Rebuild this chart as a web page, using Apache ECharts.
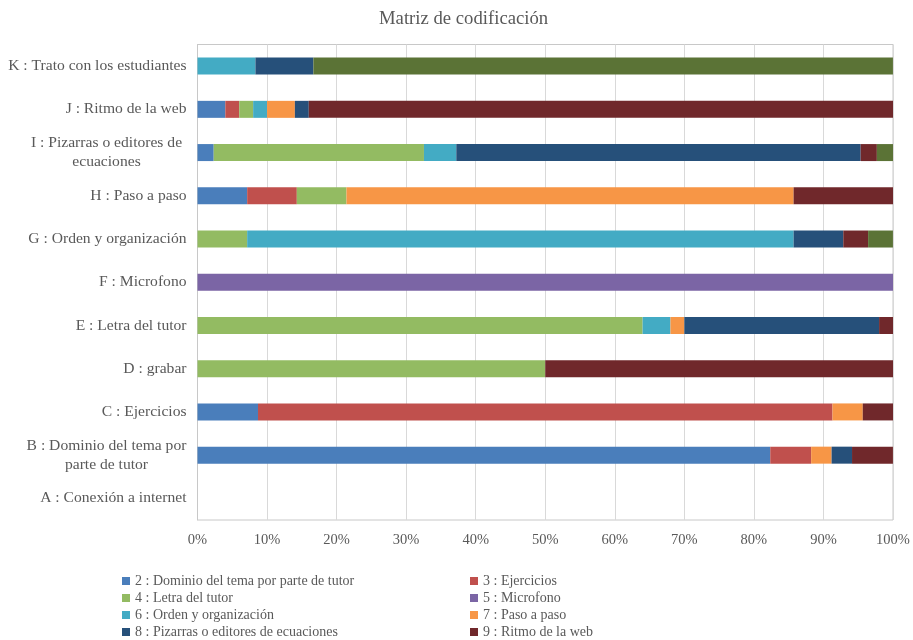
<!DOCTYPE html>
<html>
<head>
<meta charset="utf-8">
<script src="https://cdn.jsdelivr.net/npm/echarts@6/dist/echarts.min.js"></script>
<style>html,body{margin:0;padding:0;background:#fff}#c{width:913px;height:640px}</style>
</head>
<body>
<div id="c"></div>
<script>
const categories = [
  'A : Conexión a internet',
  'B : Dominio del tema por\nparte de tutor',
  'C : Ejercicios',
  'D : grabar',
  'E : Letra del tutor',
  'F : Microfono',
  'G : Orden y organización',
  'H : Paso a paso',
  'I : Pizarras o editores de\necuaciones',
  'J : Ritmo de la web',
  'K : Trato con los estudiantes'
];
const xTicks = [0, 10, 20, 30, 40, 50, 60, 70, 80, 90, 100];
//                A     B      C     D   E   F    G      H      I      J   K
const s2_dominio = [0, 82.35, 8.70, 0, 0, 0, 0, 7.14, 2.33, 4, 0];
const s3_ejercicios = [0, 5.88, 82.60, 0, 0, 0, 0, 7.14, 0, 2, 0];
const s4_letra = [0, 0, 0, 50, 64, 0, 7.14, 7.14, 30.23, 2, 0];
const s5_microfono = [0, 0, 0, 0, 0, 100, 0, 0, 0, 0, 0];
const s6_orden = [0, 0, 0, 0, 4, 0, 78.57, 0, 4.65, 2, 8.33];
const s7_paso = [0, 2.94, 4.35, 0, 2, 0, 0, 64.29, 0, 4, 0];
const s8_pizarras = [0, 2.94, 0, 0, 28, 0, 7.14, 0, 58.14, 2, 8.33];
const s9_ritmo = [0, 5.88, 4.35, 50, 2, 0, 3.57, 14.29, 2.33, 84, 0];
const s10_trato = [0, 0, 0, 0, 0, 0, 3.57, 0, 2.33, 0, 83.33];

const seriesDefs = [
  ['2 : Dominio del tema por parte de tutor', s2_dominio, '#4a7ebb'],
  ['3 : Ejercicios', s3_ejercicios, '#c0504d'],
  ['4 : Letra del tutor', s4_letra, '#93bb62'],
  ['5 : Microfono', s5_microfono, '#7b65a5'],
  ['6 : Orden y organización', s6_orden, '#43abc4'],
  ['7 : Paso a paso', s7_paso, '#f79646'],
  ['8 : Pizarras o editores de ecuaciones', s8_pizarras, '#26507a'],
  ['9 : Ritmo de la web', s9_ritmo, '#70282b'],
  ['10 : Trato con los estudiantes', s10_trato, '#5b7336']
];

const FONT = '"Liberation Serif", "Times New Roman", serif';
const LBL = 15.6;
const mctx = document.createElement('canvas').getContext('2d');
mctx.font = LBL + 'px "Liberation Serif"';

const chart = echarts.init(document.getElementById('c'));
chart.setOption({
  animation: false,
  backgroundColor: '#fff',
  title: {
    text: 'Matriz de codificación',
    left: 374,
    top: 5,
    textStyle: { fontFamily: FONT, fontSize: 18.7, fontWeight: 'normal', color: '#595959' }
  },
  legend: [
    {
      orient: 'vertical', left: 122, top: 574, padding: 0, itemGap: 3,
      itemWidth: 8, itemHeight: 8, icon: 'rect',
      textStyle: { fontFamily: FONT, fontSize: 14, color: '#595959', lineHeight: 14 },
      data: [seriesDefs[0][0], seriesDefs[2][0], seriesDefs[4][0], seriesDefs[6][0]]
    },
    {
      orient: 'vertical', left: 470, top: 574, padding: 0, itemGap: 3,
      itemWidth: 8, itemHeight: 8, icon: 'rect',
      textStyle: { fontFamily: FONT, fontSize: 14, color: '#595959', lineHeight: 14 },
      data: [seriesDefs[1][0], seriesDefs[3][0], seriesDefs[5][0], seriesDefs[7][0]]
    }
  ],
  grid: { left: 197.5, right: 20, top: 44.5, bottom: 120, show: true, borderColor: '#c8c8c8', borderWidth: 1 },
  xAxis: {
    type: 'value', min: xTicks[0], max: xTicks[xTicks.length - 1], interval: xTicks[1] - xTicks[0],
    axisLine: { show: false }, axisTick: { show: false },
    splitLine: { lineStyle: { color: '#d9d9d9', width: 1 } },
    axisLabel: { formatter: '{value}%', fontFamily: FONT, fontSize: 14.5, color: '#595959', margin: 13 }
  },
  yAxis: {
    type: 'category', data: categories,
    axisLine: { show: true, lineStyle: { color: '#c8c8c8' } }, axisTick: { show: false },
    axisLabel: {
      fontFamily: FONT, fontSize: LBL, color: '#595959', margin: 11, lineHeight: 19,
      formatter: function (v) {
        if (v.indexOf('\n') < 0) return v;
        const lines = v.split('\n');
        return lines.map(l => '{c|' + l + '}').join('\n');
      },
      rich: {
        c: {
          fontFamily: FONT, fontSize: LBL, color: '#595959', lineHeight: 19, align: 'center',
          width: Math.ceil(mctx.measureText('B : Dominio del tema por').width)
        }
      }
    }
  },
  series: seriesDefs.map(d => ({
    name: d[0], type: 'bar', stack: 'total', data: d[1], barWidth: 17,
    itemStyle: { color: d[2] }
  }))
});
</script>
</body>
</html>
